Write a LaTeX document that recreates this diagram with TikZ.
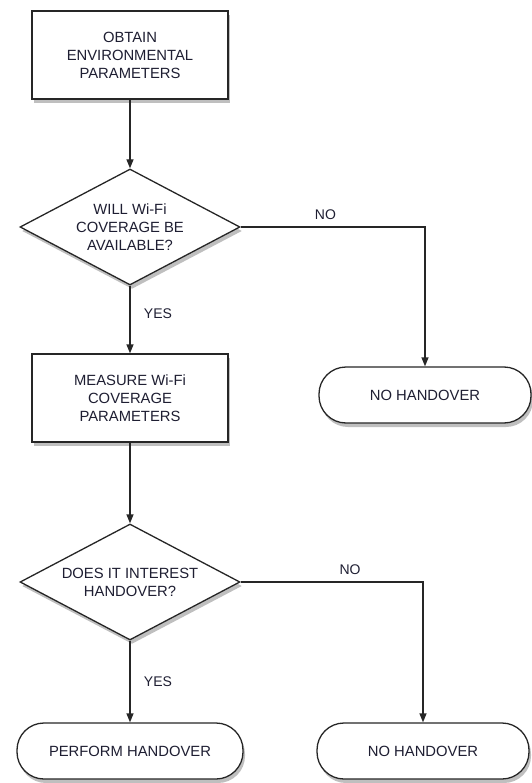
\documentclass[tikz,border=0pt]{standalone}
\usepackage{fontspec}
\setmainfont{Liberation Sans}
\usetikzlibrary{shapes.geometric,shadows,arrows.meta}
\definecolor{txt}{RGB}{30,30,50}
\begin{document}
\begin{tikzpicture}[x=1pt,y=-1pt,
 every node/.style={font=\fontsize{14.8}{18}\selectfont, text=txt},
 base/.style={draw=black!85, line width=1.3pt, fill=white, drop shadow={opacity=0.5, shadow xshift=2pt, shadow yshift=-4pt}},
 procbox/.style={base, rectangle, minimum width=196pt, minimum height=88pt, align=center, inner sep=0pt},
 decbox/.style={base, diamond, minimum width=220pt, minimum height=116pt, inner sep=0pt},
 dectext/.style={align=center, inner sep=0pt},
 termbox/.style={base, rectangle, rounded corners=27pt, minimum width=212pt, minimum height=56pt},
 conn/.style={draw=black!85, line width=1.3pt, -{Triangle[width=7pt,length=9pt]}},
 lab/.style={font=\fontsize{14}{16}\selectfont}
]
\useasboundingbox (0,0) rectangle (531,783);
\node[procbox] (b1) at (130,55) {OBTAIN\\ENVIRONMENTAL\\PARAMETERS};
\node[decbox] (d1) at (130,227) {};
\node[dectext] (d1t) at (d1.center) {WILL Wi-Fi\\COVERAGE BE\\AVAILABLE?};
\node[procbox] (b2) at (130,398) {MEASURE Wi-Fi\\COVERAGE\\PARAMETERS};
\node[termbox] (nh1) at (425,395) {NO HANDOVER};
\node[decbox] (d2) at (130,582) {};
\node[dectext] (d2t) at (d2.center) {DOES IT INTEREST\\HANDOVER?};
\node[termbox, minimum width=226pt] (ph) at (130,751) {PERFORM HANDOVER};
\node[termbox] (nh2) at (423,751) {NO HANDOVER};

\draw[conn] (b1) -- (d1);
\draw[conn] (d1.south) -- node[lab, right=10pt, pos=0.42] {YES} (b2);
\draw[conn] (d1.east) -| node[lab, above=3pt, pos=0.23] {NO} (nh1.north);
\draw[conn] (b2) -- (d2);
\draw[conn] (d2.south) -- node[lab, right=10pt, pos=0.5] {YES} (ph.north);
\draw[conn] (d2.east) -| node[lab, above=3pt, pos=0.3] {NO} (nh2.north);
\end{tikzpicture}
\end{document}
